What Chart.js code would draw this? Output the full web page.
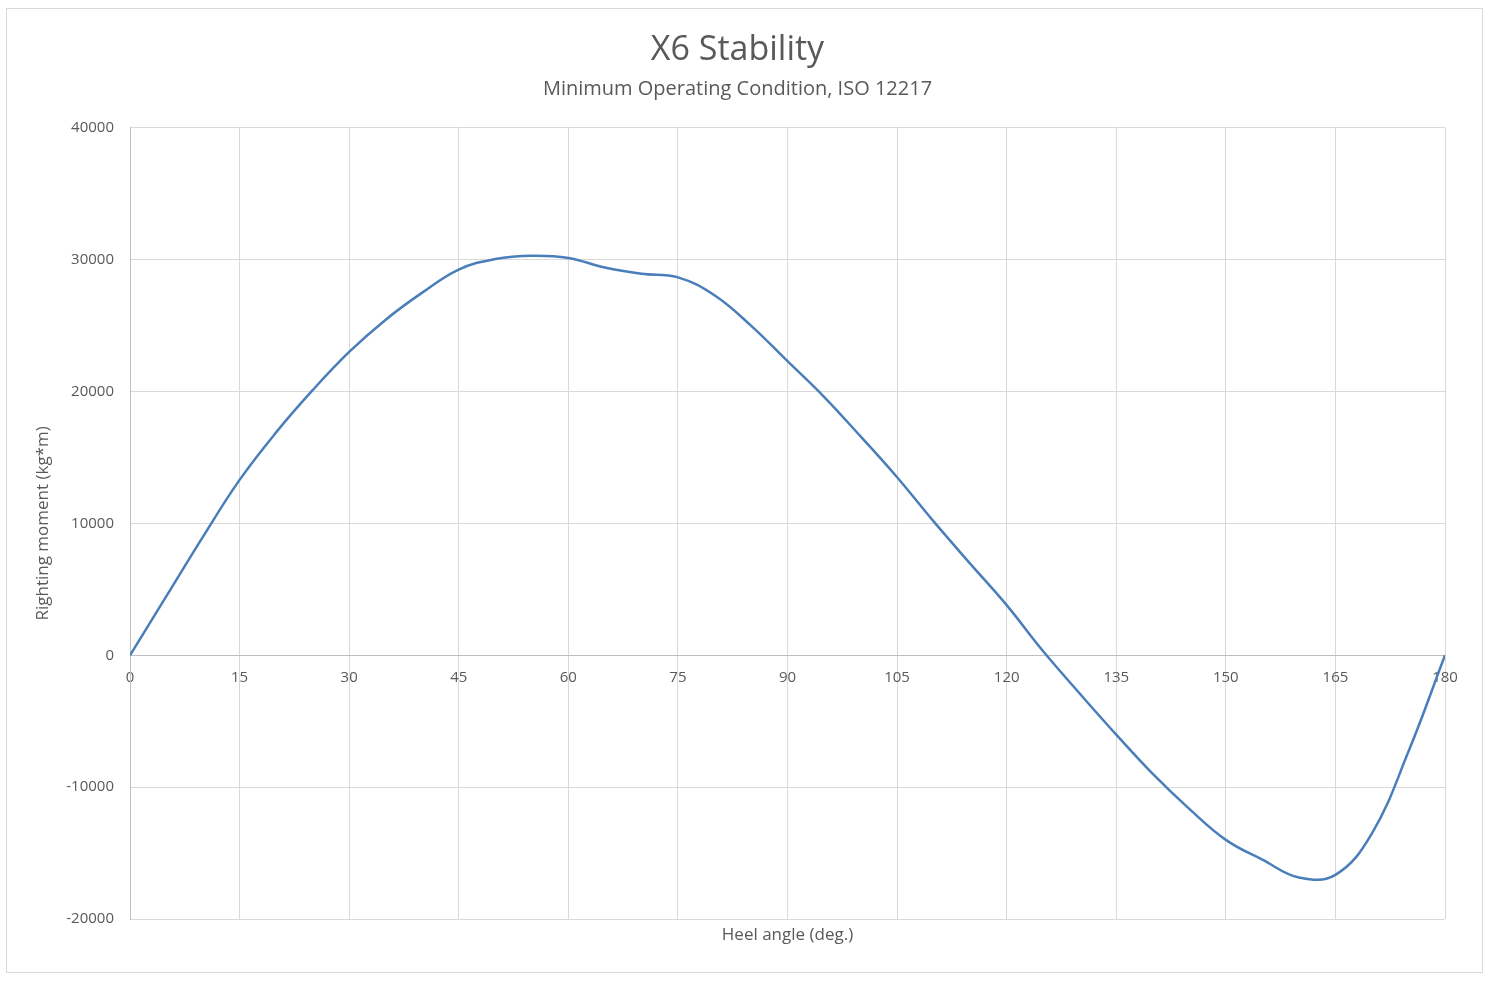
<!DOCTYPE html>
<html>
<head>
<meta charset="utf-8">
<title>X6 Stability</title>
<script src="https://cdn.jsdelivr.net/npm/chart.js@4/dist/chart.umd.min.js"></script>
<style>
  html, body { margin: 0; padding: 0; background: #fff; }
  #wrap { position: absolute; left: 0; top: 0; width: 1489px; height: 981px; }
</style>
</head>
<body>
<div id="wrap"><canvas id="chartCanvas"></canvas></div>
<script>
// heel angle (deg.) and righting moment (kg*m)
const heelAngles = [0, 5, 10, 15, 20, 25, 30, 35, 40, 45, 50, 55, 60, 65, 70, 75, 80, 85, 90,
    95, 100, 105, 110, 115, 120, 125, 130, 135, 140, 145, 150, 155, 160, 165, 170, 175, 180];
const rightingMoment = [0, 4500, 9000, 13300, 16900, 20100, 23000, 25450, 27500, 29250, 30050, 30300, 30130, 29400, 28930, 28660, 27300, 25000, 22300,
    19600, 16600, 13500, 10150, 6950, 3800, 300, -2900, -6020, -9000, -11650, -14000, -15500, -16850, -16650, -13500, -7300, 0];
const xTicks = [0, 15, 30, 45, 60, 75, 90, 105, 120, 135, 150, 165, 180];
const yTicks = [-20000, -10000, 0, 10000, 20000, 30000, 40000];

const FONT = "'Open Sans', 'Noto Sans', sans-serif";
const TEXT = '#595959';

// light grey frame around the whole chart, like the spreadsheet chart border
const framePlugin = {
    id: 'frame',
    beforeDraw(chart) {
        const ctx = chart.ctx;
        ctx.save();
        ctx.fillStyle = '#fff';
        ctx.fillRect(0, 0, chart.width, chart.height);
        ctx.strokeStyle = '#d9d9d9';
        ctx.lineWidth = 1;
        ctx.strokeRect(6.5, 8.5, 1476, 964);
        ctx.restore();
    }
};

const ctx = document.getElementById('chartCanvas').getContext('2d');
window.myChart = new Chart(ctx, {
    type: 'line',
    data: {
        datasets: [{
            label: 'Righting moment',
            data: heelAngles.map((a, i) => ({ x: a, y: rightingMoment[i] })),
            borderColor: '#4a7ebb',
            borderWidth: 2.5,
            pointRadius: 0,
            tension: 0.4,
            fill: false
        }]
    },
    options: {
        responsive: true,
        maintainAspectRatio: false,
        animation: false,
        layout: { padding: { left: 30, right: 44, top: 0, bottom: 36 } },
        plugins: {
            legend: { display: false },
            tooltip: { enabled: false },
            title: {
                display: true,
                text: 'X6 Stability',
                color: TEXT,
                font: { family: FONT, size: 34, weight: 'normal' },
                padding: { top: 30, bottom: 4 }
            },
            subtitle: {
                display: true,
                text: 'Minimum Operating Condition, ISO 12217',
                color: TEXT,
                font: { family: FONT, size: 20, weight: 'normal' },
                padding: { top: 2, bottom: 27 }
            }
        },
        scales: {
            x: {
                type: 'linear',
                position: { y: 0 },
                min: 0,
                max: 180,
                afterBuildTicks: (scale) => { scale.ticks = xTicks.map(v => ({ value: v })); },
                ticks: { color: TEXT, font: { family: FONT, size: 15 }, padding: 13, callback: (v) => String(v) },
                grid: { color: '#d9d9d9', drawTicks: false },
                border: { color: '#bfbfbf', width: 1 }
            },
            x2: {
                type: 'linear',
                position: 'bottom',
                display: true,
                min: 0,
                max: 180,
                afterFit: (scale) => { scale.height = 26; },
                ticks: { display: false },
                grid: { display: false },
                border: { display: false },
                title: {
                    display: true,
                    text: 'Heel angle (deg.)',
                    color: TEXT,
                    font: { family: FONT, size: 17 },
                    padding: { top: 4, bottom: 0 }
                }
            },
            y: {
                type: 'linear',
                min: -20000,
                max: 40000,
                afterBuildTicks: (scale) => { scale.ticks = yTicks.map(v => ({ value: v })); },
                afterFit: (scale) => { scale.width = 100; },
                ticks: { color: TEXT, font: { family: FONT, size: 15 }, padding: 16, callback: (v) => String(v) },
                grid: { color: '#d9d9d9', drawTicks: false },
                border: { color: '#bfbfbf', width: 1 },
                title: {
                    display: true,
                    text: 'Righting moment (kg*m)',
                    color: TEXT,
                    font: { family: FONT, size: 17 },
                    padding: { top: 3, bottom: 0 }
                }
            }
        }
    },
    plugins: [framePlugin]
});
</script>
</body>
</html>
